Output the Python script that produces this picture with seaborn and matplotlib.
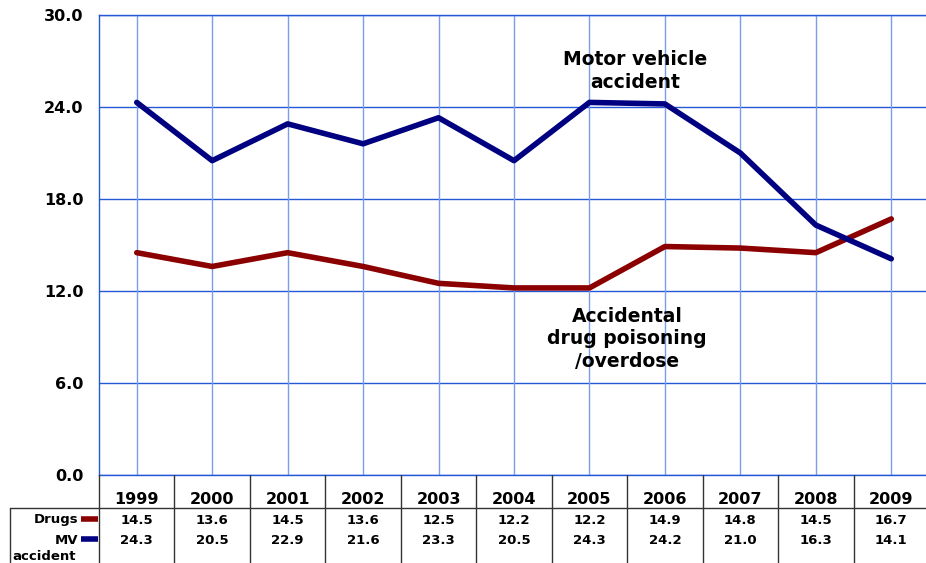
import matplotlib
matplotlib.use("Agg")
import matplotlib.pyplot as plt
import matplotlib.transforms as mtransforms
from matplotlib.lines import Line2D
import seaborn as sns
import pandas as pd

years = ["1999", "2000", "2001", "2002", "2003", "2004", "2005", "2006", "2007", "2008", "2009"]
drugs = [14.5, 13.6, 14.5, 13.6, 12.5, 12.2, 12.2, 14.9, 14.8, 14.5, 16.7]
mv_accident = [24.3, 20.5, 22.9, 21.6, 23.3, 20.5, 24.3, 24.2, 21.0, 16.3, 14.1]
y_ticks = [0.0, 6.0, 12.0, 18.0, 24.0, 30.0]

DRUG_COLOR = "#8b0000"
MV_COLOR = "#000080"
GRID_H = "#2458d8"
GRID_V = "#7a9de8"
TXT = "#000000"

W, H = 926, 563
sns.set_theme(style="white")
plt.rcParams["font.family"] = ["DejaVu Sans"]
plt.rcParams["text.color"] = TXT
plt.rcParams["ytick.color"] = TXT

fig = plt.figure(figsize=(W / 100, H / 100), dpi=100)

def fx(x):
    return x / W

def fy(y):
    return 1 - y / H

left, right, top, bottom = 99, 929, 15, 475
ax = fig.add_axes([fx(left), fy(bottom), fx(right) - fx(left), fy(top) - fy(bottom)])

df = pd.DataFrame({
    "idx": list(range(len(years))) * 2,
    "rate": drugs + mv_accident,
    "series": ["Drugs"] * len(years) + ["MV accident"] * len(years),
})
sns.lineplot(data=df, x="idx", y="rate", hue="series",
             palette={"Drugs": DRUG_COLOR, "MV accident": MV_COLOR},
             linewidth=4.0, legend=False, ax=ax, zorder=3)

ax.set_xlim(-0.5, len(years) - 0.5)
ax.set_ylim(0, 30)
ax.set_yticks(y_ticks)
ax.set_yticklabels([f"{v:.1f}" for v in y_ticks], fontsize=11.5, fontweight="bold", color=TXT)
ax.set_xticks(range(len(years)))
ax.set_xticklabels([])
ax.tick_params(axis="y", length=0, pad=11)
ax.tick_params(axis="x", length=0)
ax.set_xlabel("")
ax.set_ylabel("")

for v in y_ticks:
    ax.axhline(v, color=GRID_H, lw=1.0, zorder=1)
for i in range(len(years)):
    ax.axvline(i, color=GRID_V, lw=1.0, zorder=1)
for s in ax.spines.values():
    s.set_color(GRID_H)
    s.set_linewidth(1.0)

ax.text(6.6, 26.35, "Motor vehicle\naccident", ha="center", va="center",
        fontsize=13.5, fontweight="bold", linespacing=1.25, zorder=4, color=TXT)
ax.text(6.5, 8.87, "Accidental\ndrug poisoning\n/overdose", ha="center", va="center",
        fontsize=13.5, fontweight="bold", linespacing=1.25, zorder=4, color=TXT)

# data table beneath the plot
blend = mtransforms.blended_transform_factory(ax.transData, fig.transFigure)
for i in range(len(years) + 1):
    x = i - 0.5
    fig.add_artist(Line2D([x, x], [fy(bottom), 0], transform=blend, color="#333333", lw=1.0))
fig.add_artist(Line2D([fx(10), 1], [fy(508), fy(508)], transform=fig.transFigure, color="#333333", lw=1.0))
fig.add_artist(Line2D([fx(10), fx(10)], [fy(508), 0], transform=fig.transFigure, color="#333333", lw=1.0))

for i, yr in enumerate(years):
    fig.text(i, fy(499), yr, transform=blend, ha="center", va="center",
             fontsize=11.5, fontweight="bold", color=TXT)
    fig.text(i, fy(520), f"{drugs[i]:.1f}", transform=blend, ha="center", va="center",
             fontsize=9.5, fontweight="bold", color=TXT)
    fig.text(i, fy(541), f"{mv_accident[i]:.1f}", transform=blend, ha="center", va="center",
             fontsize=9.5, fontweight="bold", color=TXT)

fig.text(fx(78), fy(520), "Drugs", ha="right", va="center", fontsize=9.5, fontweight="bold", color=TXT)
fig.text(fx(78), fy(541), "MV", ha="right", va="center", fontsize=9.5, fontweight="bold", color=TXT)
fig.text(fx(12), fy(557), "accident", ha="left", va="center", fontsize=9.5, fontweight="bold", color=TXT)
fig.add_artist(Line2D([fx(81), fx(98)], [fy(519), fy(519)], transform=fig.transFigure,
                      color=DRUG_COLOR, lw=4.0, solid_capstyle="butt"))
fig.add_artist(Line2D([fx(81), fx(98)], [fy(539), fy(539)], transform=fig.transFigure,
                      color=MV_COLOR, lw=4.0, solid_capstyle="butt"))

fig.savefig("out.png", dpi=100)
